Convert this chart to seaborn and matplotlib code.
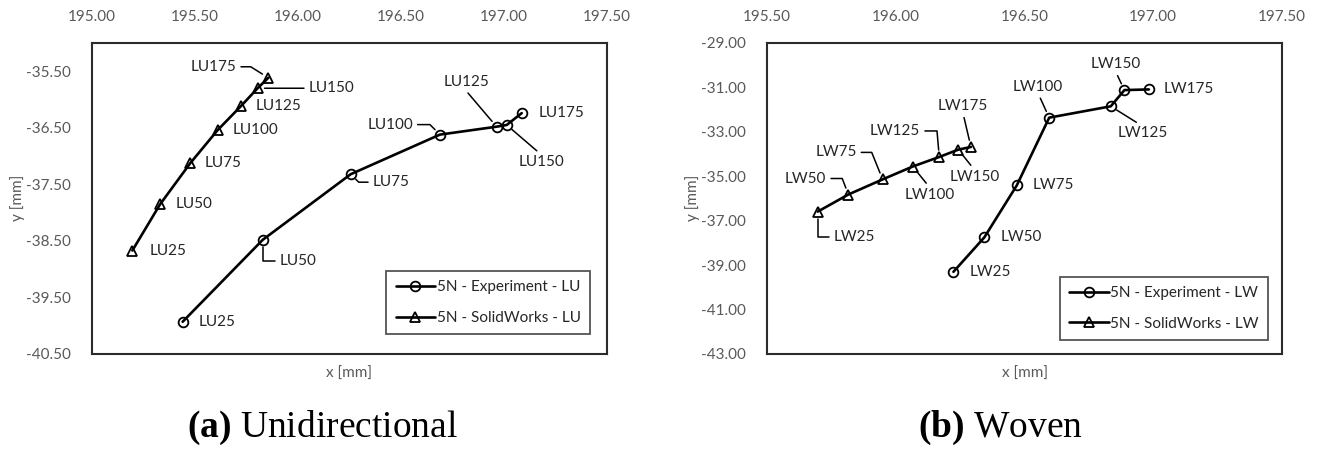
import numpy as np
import pandas as pd
import matplotlib
matplotlib.use("Agg")
import matplotlib.pyplot as plt
import seaborn as sns
from matplotlib.ticker import FormatStrFormatter, MultipleLocator
from matplotlib.lines import Line2D

# ---------------- data ----------------
lu_labels = ["LU25", "LU50", "LU75", "LU100", "LU125", "LU150", "LU175"]
lu_exp_x = [195.440, 195.829, 196.256, 196.689, 196.964, 197.013, 197.086]
lu_exp_y = [-39.93, -38.48, -37.32, -36.62, -36.48, -36.45, -36.24]
lu_sw_x = [195.196, 195.330, 195.476, 195.610, 195.722, 195.804, 195.856]
lu_sw_y = [-38.67, -37.855, -37.13, -36.54, -36.12, -35.80, -35.615]

lw_labels = ["LW25", "LW50", "LW75", "LW100", "LW125", "LW150", "LW175"]
lw_exp_x = [196.224, 196.344, 196.470, 196.596, 196.835, 196.888, 196.983]
lw_exp_y = [-39.30, -37.75, -35.41, -32.36, -31.85, -31.12, -31.09]
lw_sw_x = [195.697, 195.816, 195.949, 196.066, 196.169, 196.243, 196.292]
lw_sw_y = [-36.59, -35.82, -35.14, -34.56, -34.13, -33.80, -33.68]

legend_lu = ["5N - Experiment - LU", "5N - SolidWorks - LU"]
legend_lw = ["5N - Experiment - LW", "5N - SolidWorks - LW"]
captions = [("(a)", "Unidirectional"), ("(b)", "Woven")]

# ---------------- styling ----------------
sns.set_theme(style="white")
plt.rcParams["font.family"] = ["Lato", "DejaVu Sans"]
plt.rcParams["mathtext.fontset"] = "custom"
plt.rcParams["mathtext.bf"] = "Liberation Serif:bold"
plt.rcParams["mathtext.rm"] = "Liberation Serif"

TICK_C = "#595959"
TXT_C = "#262626"
FS = 11

W, H = 1319, 450
fig = plt.figure(figsize=(W / 100, H / 100), dpi=100)
ax1 = fig.add_axes([92 / W, 1 - 354 / H, 515 / W, 311 / H])
ax2 = fig.add_axes([767 / W, 1 - 354 / H, 515 / W, 311 / H])

# label layout: (ha, dx_px, dy_px, leader)
# leader: None, ("line", relpos) or ("angle", angleB, relpos)
lu_sw_lay = [
    ("left", 17, 0, None),
    ("left", 16, 0, None),
    ("left", 15, 0, None),
    ("left", 15, 0, None),
    ("left", 15, 0, None),
    ("left", 51, 0, ("line", (0, 0.5))),
    ("right", -32, 11, ("angle", -32, (1, 0.5))),
]
lu_exp_lay = [
    ("left", 16, 0, None),
    ("left", 17, -21, ("angle", 90, (0, 0.5))),
    ("left", 22, -8, ("angle", -45, (0, 0.5))),
    ("right", -27, 10, ("angle", -45, (1, 0.5))),
    ("center", -30, 45, ("line", (0.45, 0))),
    ("center", 35, -37, ("line", (0.5, 1))),
    ("left", 17, 0, None),
]
lw_sw_lay = [
    ("left", 16, -25, ("angle", 90, (0, 0.5))),
    ("right", -22, 16, ("angle", -69, (1, 0.5))),
    ("right", -26, 27, ("angle", -68, (1, 0.5))),
    ("center", 17, -28, ("line", (0.5, 1))),
    ("right", -19, 26, ("angle", -85, (1, 0.5))),
    ("center", 16, -27, ("line", (0.5, 1))),
    ("center", -8, 41, ("line", (0.5, 0))),
]
lw_exp_lay = [
    ("left", 16, 0, None),
    ("left", 16, 0, None),
    ("left", 16, 0, None),
    ("center", -11, 31, ("line", (0.5, 0))),
    ("center", 32, -27, ("line", (0.5, 1))),
    ("center", -9, 26, ("line", (0.5, 0))),
    ("left", 15, 0, None),
]


def draw_series(ax, xs, ys, marker, ms):
    df = pd.DataFrame({"x": xs, "y": ys})
    sns.lineplot(data=df, x="x", y="y", ax=ax, sort=False, color="black",
                 lw=1.9, marker=marker, markersize=ms, markerfacecolor="none",
                 markeredgecolor="black", markeredgewidth=1.3, zorder=3)


def annotate_series(ax, labels, xs, ys, layout):
    for lab, x, y, (ha, dx, dy, leader) in zip(labels, xs, ys, layout):
        kw = {}
        if leader is not None:
            if leader[0] == "line":
                cs = "arc3,rad=0"
                relpos = leader[1]
            else:
                cs = "angle,angleA=0,angleB=%g,rad=0" % leader[1]
                relpos = leader[2]
            kw["arrowprops"] = dict(arrowstyle="-", color="black", lw=1.1,
                                    connectionstyle=cs, relpos=relpos,
                                    shrinkA=1, shrinkB=5)
        ax.annotate(lab, xy=(x, y), xytext=(dx, dy), textcoords="offset pixels",
                    ha=ha, va="center", fontsize=FS, color=TXT_C, zorder=4, **kw)


def style_axes(ax, xlim, xstep, ylim, ystep):
    ax.set_xlim(*xlim)
    ax.set_ylim(*ylim)
    ax.xaxis.set_major_locator(MultipleLocator(xstep))
    ax.set_yticks(np.arange(ylim[0], ylim[1] + 1e-9, ystep))
    ax.xaxis.set_major_formatter(FormatStrFormatter("%.2f"))
    ax.yaxis.set_major_formatter(FormatStrFormatter("%.2f"))
    ax.xaxis.tick_top()
    ax.tick_params(axis="both", length=0, labelsize=FS, labelcolor=TICK_C)
    ax.tick_params(axis="x", pad=14)
    ax.tick_params(axis="y", pad=15)
    for s in ax.spines.values():
        s.set_visible(True)
        s.set_color("#2b2b2b")
        s.set_linewidth(1.5)
    ax.grid(False)
    ax.set_xlabel("")
    ax.set_ylabel("")


# ---- left panel ----
draw_series(ax1, lu_exp_x, lu_exp_y, "o", 7)
draw_series(ax1, lu_sw_x, lu_sw_y, "^", 7.5)
style_axes(ax1, (195.0, 197.5), 0.5, (-40.5, -35.0), 1.0)
annotate_series(ax1, lu_labels, lu_exp_x, lu_exp_y, lu_exp_lay)
annotate_series(ax1, lu_labels, lu_sw_x, lu_sw_y, lu_sw_lay)

# ---- right panel ----
draw_series(ax2, lw_exp_x, lw_exp_y, "o", 7)
draw_series(ax2, lw_sw_x, lw_sw_y, "^", 7.5)
style_axes(ax2, (195.5, 197.5), 0.5, (-43.0, -29.0), 2.0)
annotate_series(ax2, lw_labels, lw_exp_x, lw_exp_y, lw_exp_lay)
annotate_series(ax2, lw_labels, lw_sw_x, lw_sw_y, lw_sw_lay)


def add_legend(ax, names, anchor):
    handles = [
        Line2D([], [], color="black", lw=1.9, marker="o", markersize=7,
               markerfacecolor="none", markeredgewidth=1.3),
        Line2D([], [], color="black", lw=1.9, marker="^", markersize=7.5,
               markerfacecolor="none", markeredgewidth=1.3),
    ]
    leg = ax.legend(handles, names, loc="lower right", bbox_to_anchor=anchor,
                    borderaxespad=0, frameon=True, fancybox=False,
                    edgecolor="#2b2b2b", fontsize=FS, handlelength=2.6,
                    handletextpad=0.1, labelspacing=1.1, borderpad=0.6,
                    labelcolor=TXT_C)
    leg.get_frame().set_linewidth(1.3)


add_legend(ax1, legend_lu, (0.967, 0.064))
add_legend(ax2, legend_lw, (0.973, 0.045))

# axis titles
for ax in (ax1, ax2):
    ax.text(0.5, -0.065, "x [mm]", transform=ax.transAxes, ha="center",
            va="center", fontsize=FS, color=TICK_C)
fig.text(18 / W, 1 - 198 / H, "y [mm]", rotation=90, ha="center", va="center",
         fontsize=FS, color=TICK_C)
fig.text(693 / W, 1 - 198 / H, "y [mm]", rotation=90, ha="center", va="center",
         fontsize=FS, color=TICK_C)

# captions
for (tag, name), cx in zip(captions, (322, 1000)):
    fig.text(cx / W, 1 - 428 / H, r"$\mathbf{%s}$ %s" % (tag, name),
             ha="center", va="center", fontsize=27, family="Liberation Serif",
             color="black")

fig.savefig("out.png", dpi=100)
